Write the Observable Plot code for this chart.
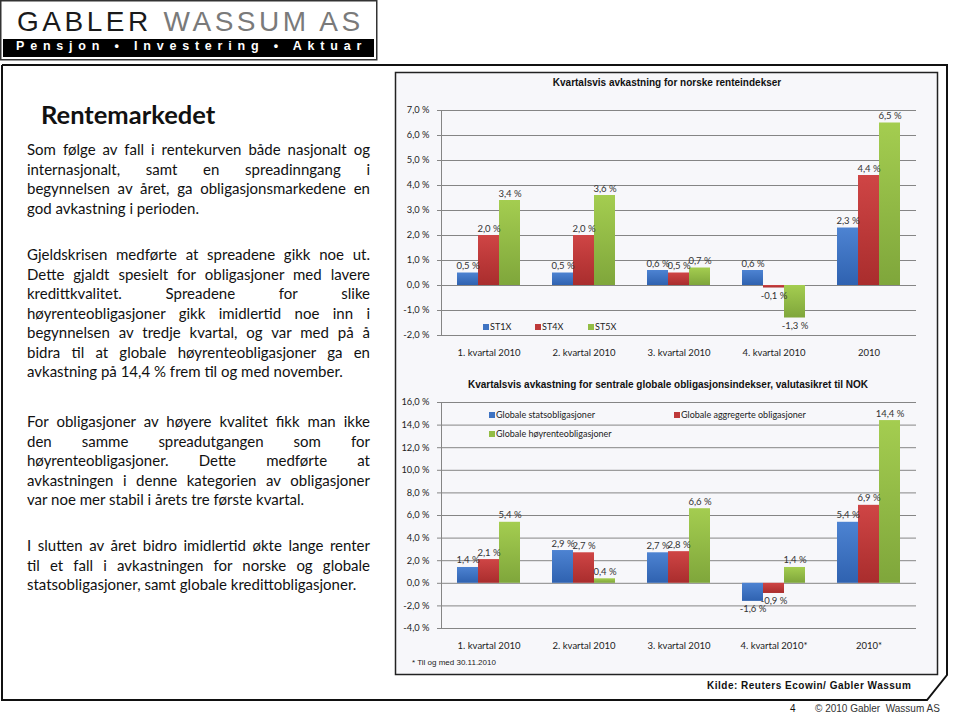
<!DOCTYPE html>
<html>
<head>
<meta charset="utf-8">
<script src="https://cdn.jsdelivr.net/npm/d3@7"></script>
<script src="https://cdn.jsdelivr.net/npm/@observablehq/plot@0.6"></script>
<style>
  html, body { margin: 0; padding: 0; }
  body { width: 959px; height: 713px; position: relative; background: #fff; overflow: hidden; font-family: Lato, "Open Sans", sans-serif; color: #111; }
  .abs { position: absolute; }
  .para div { height: 19.5px; line-height: 19.5px; white-space: nowrap; }
  .para .j { text-align: justify; text-align-last: justify; white-space: normal; }
  .ctitle { font-family: "Liberation Sans", Arial, sans-serif; font-weight: bold; font-size: 10px; color: #111; white-space: nowrap; transform: translateX(-50%); }
  .leg { font-family: Lato, sans-serif; font-size: 9px; color: #222; white-space: nowrap; line-height: 11px; }
  .leg i { display: inline-block; width: 6px; height: 6px; margin-right: 1px; vertical-align: 0px; }
</style>
</head>
<body>
<svg width="0" height="0" style="position:absolute">
  <defs>
    <linearGradient id="gBlue" x1="0" y1="0" x2="0" y2="1">
      <stop offset="0" stop-color="#4d83d2"/><stop offset="1" stop-color="#2f62b0"/>
    </linearGradient>
    <linearGradient id="gRed" x1="0" y1="0" x2="0" y2="1">
      <stop offset="0" stop-color="#cf4545"/><stop offset="1" stop-color="#a92d2d"/>
    </linearGradient>
    <linearGradient id="gGreen" x1="0" y1="0" x2="0" y2="1">
      <stop offset="0" stop-color="#a4cd50"/><stop offset="1" stop-color="#7fa63b"/>
    </linearGradient>
  </defs>
</svg>

<!-- page frames -->
<svg class="abs" style="left:0;top:0" width="959" height="713">
  <rect x="0.75" y="0.75" width="376" height="59" fill="#fff" stroke="#333" stroke-width="1.5"/>
  <rect x="3" y="39" width="371" height="18" fill="#000"/>
  <polyline points="2,65 947,65 947,675 927,700 2,700 2,65" fill="none" stroke="#111" stroke-width="2"/>
  <rect x="395.5" y="72.5" width="542" height="602" fill="#f7f7fa" stroke="#222" stroke-width="1.5"/>
</svg>

<!-- logo -->
<div class="abs" style="left:17px;top:8px;font:28px 'Liberation Sans',Arial,sans-serif;line-height:28px;letter-spacing:3.5px;white-space:nowrap"><span style="color:#1a1a1a">GABLER</span><span style="display:inline-block;width:12px"></span><span style="color:#7a7a7a">WASSUM AS</span></div>
<div class="abs" style="left:16px;top:39px;height:18px;line-height:18px;font:bold 12.5px 'Liberation Sans',Arial,sans-serif;letter-spacing:5.8px;color:#fff;white-space:nowrap">Pensjon • Investering • Aktuar</div>

<!-- left text -->
<div class="abs" style="left:41px;top:99px;font:bold 25.5px Lato,sans-serif;line-height:30px;color:#111">Rentemarkedet</div>
<div id="textcol" class="abs" style="left:27px;top:0;width:343px;font-size:14.5px;color:#111">
  <div class="para abs" style="top:140px;width:343px">
    <div class="j">Som følge av fall i rentekurven både nasjonalt og</div>
    <div class="j">internasjonalt, samt en spreadinngang i</div>
    <div class="j">begynnelsen av året, ga obligasjonsmarkedene en</div>
    <div>god avkastning i perioden.</div>
  </div>
  <div class="para abs" style="top:245px;width:343px">
    <div class="j">Gjeldskrisen medførte at spreadene gikk noe ut.</div>
    <div class="j">Dette gjaldt spesielt for obligasjoner med lavere</div>
    <div class="j">kredittkvalitet. Spreadene for slike</div>
    <div class="j">høyrenteobligasjoner gikk imidlertid noe inn i</div>
    <div class="j">begynnelsen av tredje kvartal, og var med på å</div>
    <div class="j">bidra til at globale høyrenteobligasjoner ga en</div>
    <div id="refline">avkastning på 14,4 % frem til og med november.</div>
  </div>
  <div class="para abs" style="top:412px;width:343px">
    <div class="j">For obligasjoner av høyere kvalitet fikk man ikke</div>
    <div class="j">den samme spreadutgangen som for</div>
    <div class="j">høyrenteobligasjoner. Dette medførte at</div>
    <div class="j">avkastningen i denne kategorien av obligasjoner</div>
    <div>var noe mer stabil i årets tre første kvartal.</div>
  </div>
  <div class="para abs" style="top:536px;width:343px">
    <div class="j">I slutten av året bidro imidlertid økte lange renter</div>
    <div class="j">til et fall i avkastningen for norske og globale</div>
    <div>statsobligasjoner, samt globale kredittobligasjoner.</div>
  </div>
</div>

<!-- chart titles & legends -->
<div class="abs ctitle" style="left:667px;top:77px">Kvartalsvis avkastning for norske renteindekser</div>
<div class="abs ctitle" style="left:668px;top:379px">Kvartalsvis avkastning for sentrale globale obligasjonsindekser, valutasikret til NOK</div>

<div id="chart1" class="abs" style="left:396px;top:100px"></div>
<div id="chart2" class="abs" style="left:396px;top:392px"></div>

<div id="legend1"></div>
<div id="legend2"></div>

<div class="abs" style="left:412px;top:658px;font:8px 'Liberation Sans',Arial,sans-serif;color:#222;white-space:nowrap">* Til og med 30.11.2010</div>

<!-- footer -->
<div class="abs" style="left:707px;top:680px;font:bold 10px 'Liberation Sans',Arial,sans-serif;letter-spacing:0.5px;color:#111;white-space:nowrap">Kilde: Reuters Ecowin/ Gabler Wassum</div>
<div class="abs" style="left:790px;top:703px;font:10px 'Liberation Sans',Arial,sans-serif;color:#111">4</div>
<div class="abs" style="left:815px;top:703px;font:10px 'Liberation Sans',Arial,sans-serif;color:#333;white-space:nowrap">© 2010 Gabler&nbsp; Wassum AS</div>

<script>
// ---------- data ----------
const quarters1 = ["1. kvartal 2010", "2. kvartal 2010", "3. kvartal 2010", "4. kvartal 2010", "2010"];
const series1 = ["ST1X", "ST4X", "ST5X"];
const st1x = [0.5, 0.5, 0.6, 0.6, 2.3];
const st4x = [2.0, 2.0, 0.5, -0.1, 4.4];
const st5x = [3.4, 3.6, 0.7, -1.3, 6.5];
const yTicks1 = [-2, -1, 0, 1, 2, 3, 4, 5, 6, 7];

const quarters2 = ["1. kvartal 2010", "2. kvartal 2010", "3. kvartal 2010", "4. kvartal 2010*", "2010*"];
const series2 = ["Globale statsobligasjoner", "Globale aggregerte obligasjoner", "Globale høyrenteobligasjoner"];
const statsoblig = [1.4, 2.9, 2.7, -1.6, 5.4];
const aggregerte = [2.1, 2.7, 2.8, -0.9, 6.9];
const hoyrente = [5.4, 0.4, 6.6, 1.4, 14.4];
const yTicks2 = [-4, -2, 0, 2, 4, 6, 8, 10, 12, 14, 16];

const seriesFills = ["url(#gBlue)", "url(#gRed)", "url(#gGreen)"];
const legendSwatch = ["#3f73c2", "#be3939", "#93bd45"];

// ---------- helpers ----------
const fmt = v => v.toFixed(1).replace(".", ",") + " %";
function rowsFrom(cats, series, arrays) {
  const out = [];
  cats.forEach((c, i) => series.forEach((s, j) => out.push({cat: c, series: s, value: arrays[j][i]})));
  return out;
}
function makeChart({cats, series, arrays, ticks, height, marginBottom}) {
  const rows = rowsFrom(cats, series, arrays);
  const common = {fx: "cat", x: "series", y: "value"};
  return Plot.plot({
    width: 541, height,
    marginLeft: 45, marginRight: 21, marginTop: 10, marginBottom,
    style: {background: "transparent", fontFamily: "Lato, sans-serif", fontSize: "9px", color: "#222", overflow: "visible"},
    fx: {domain: cats, padding: 0, label: null},
    x: {domain: series, paddingInner: 0, paddingOuter: 0.71, axis: null},
    y: {domain: [ticks[0], ticks[ticks.length - 1]], label: null},
    color: {domain: series, range: seriesFills},
    marks: [
      Plot.ruleY(ticks, {stroke: "#858585", strokeWidth: 1, strokeOpacity: 1}),
      Plot.axisY(ticks, {tickFormat: fmt, tickSize: 4, tickPadding: 8, facetAnchor: "left", label: null, stroke: "#858585", strokeOpacity: 1, fontSize: 9.3, fill: "#222"}),
      Plot.frame({anchor: "left", facetAnchor: "left", stroke: "#858585"}),
      Plot.axisFx({anchor: "bottom", tickSize: 0, tickPadding: 14, label: null, fontSize: 9.5, fill: "#222"}),
      Plot.barY(rows, {...common, fill: "series"}),
      Plot.text(rows.filter(d => d.value >= 0), {...common, text: d => fmt(d.value), lineAnchor: "bottom", dy: -4, fill: "#333", fontSize: 9.5}),
      Plot.text(rows.filter(d => d.value < 0), {...common, text: d => fmt(d.value), lineAnchor: "top", dy: 4, fill: "#333", fontSize: 9.5})
    ]
  });
}

document.getElementById("chart1").append(makeChart({
  cats: quarters1, series: series1, arrays: [st1x, st4x, st5x], ticks: yTicks1, height: 265, marginBottom: 30
}));
document.getElementById("chart2").append(makeChart({
  cats: quarters2, series: series2, arrays: [statsoblig, aggregerte, hoyrente], ticks: yTicks2, height: 262, marginBottom: 26
}));

// legends (HTML)
function legendItem(label, color, left, top) {
  const d = document.createElement("div");
  d.className = "abs leg";
  d.style.left = left + "px";
  d.style.top = top + "px";
  d.innerHTML = `<i style="background:${color}"></i>${label}`;
  return d;
}
const l1 = document.getElementById("legend1");
[[483, 321], [535, 321], [588, 321]].forEach(([x, y], i) => l1.append(legendItem(series1[i], legendSwatch[i], x, y)));
const l2 = document.getElementById("legend2");
[[489, 409], [674, 409], [489, 428]].forEach(([x, y], i) => l2.append(legendItem(series2[i], legendSwatch[i], x, y)));

// fit body text size so the reference line matches the original width (~316px)
(function fitText() {
  const ref = document.getElementById("refline");
  const span = document.createElement("span");
  span.textContent = ref.textContent;
  span.style.whiteSpace = "nowrap";
  ref.textContent = "";
  ref.append(span);
  const w = span.getBoundingClientRect().width;
  const col = document.getElementById("textcol");
  const fs = 14.5 * 316 / w;
  col.style.fontSize = fs.toFixed(2) + "px";
})();
</script>
</body>
</html>
